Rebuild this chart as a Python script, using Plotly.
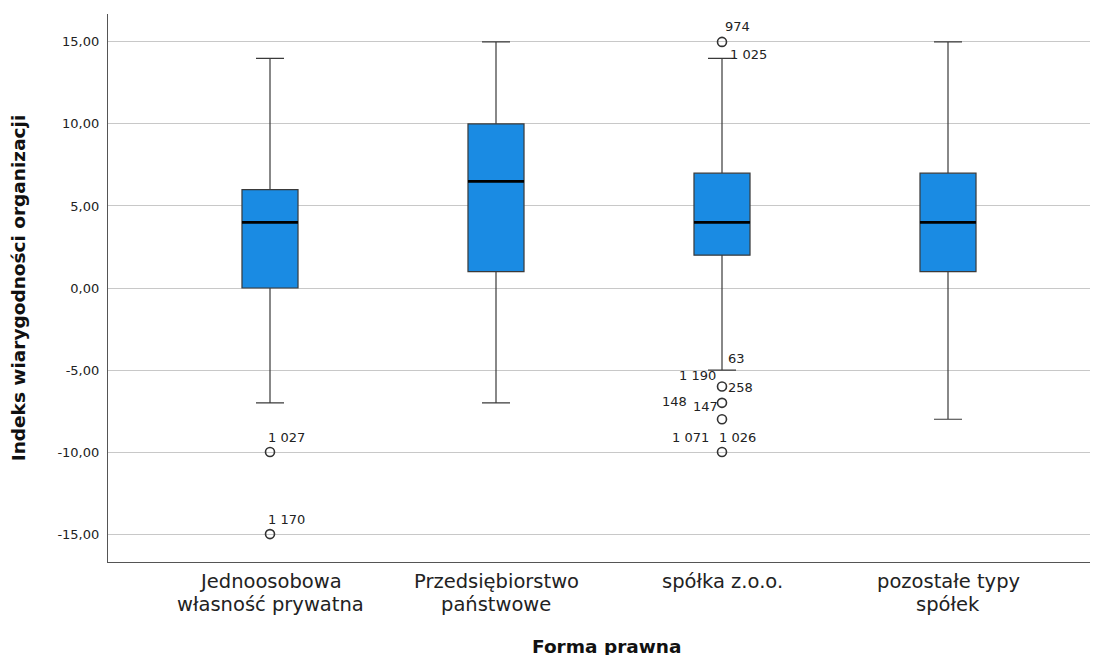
import plotly.graph_objects as go

categories = ["Jednoosobowa<br>własność prywatna", "Przedsiębiorstwo<br>państwowe",
              "spółka z.o.o.", "pozostałe typy<br>spółek"]
lower_whisker = [-7, -7, -5, -8]
q1 = [0, 1, 2, 1]
median = [4, 6.5, 4, 4]
q3 = [6, 10, 7, 7]
upper_whisker = [14, 15, 14, 15]

# outliers: (category index, value)
outlier_cat = [0, 0, 2, 2, 2, 2, 2]
outlier_val = [-10, -15, 15, -6, -7, -8, -10]

# outlier labels: (category index, value, label, x shift px, y shift px)
label_cat = [0, 0, 2, 2, 2, 2, 2, 2, 2, 2, 2]
label_val = [-10, -15, 15, 15, -6, -6, -6, -7, -7, -10, -10]
label_txt = ["1 027", "1 170", "974", "1 025", "63", "1 190", "258", "148", "147", "1 071", "1 026"]
label_dx = [16, 16, 15, 26, 14, -25, 18, -48, -17, -32, 15]
label_dy = [15, 15, 15, -13, 28, 11, -1, 1, -4, 15, 15]

y_ticks = [-15, -10, -5, 0, 5, 10, 15]
y_ticktext = ["-15,00", "-10,00", "-5,00", "0,00", "5,00", "10,00", "15,00"]

x_title = "Forma prawna"
y_title = "Indeks wiarygodności organizacji"

FONT = "DejaVu Sans"
BOX_W = 0.248

fig = go.Figure()
xs = list(range(len(categories)))
fig.add_trace(go.Box(
    x=xs, q1=q1, median=median, q3=q3,
    lowerfence=lower_whisker, upperfence=upper_whisker,
    width=BOX_W, whiskerwidth=0.5,
    fillcolor="#1a8be3", line=dict(color="#3a3a3a", width=1.2),
    boxpoints=False, showlegend=False, hoverinfo="skip",
))

# thick median lines
mx, my = [], []
for i, m in enumerate(median):
    mx += [i - BOX_W / 2, i + BOX_W / 2, None]
    my += [m, m, None]
fig.add_trace(go.Scatter(x=mx, y=my, mode="lines",
                         line=dict(color="black", width=2.6),
                         showlegend=False, hoverinfo="skip"))

fig.add_trace(go.Scatter(
    x=outlier_cat, y=outlier_val, mode="markers",
    marker=dict(symbol="circle-open", size=9, color="#333333", line=dict(width=1.6)),
    showlegend=False, hoverinfo="skip"))

for c, v, t, dx, dy in zip(label_cat, label_val, label_txt, label_dx, label_dy):
    fig.add_annotation(x=c, y=v, text=t, showarrow=False, xshift=dx, yshift=dy,
                       font=dict(family=FONT, size=13, color="#222222"))

# category labels (two tightly spaced lines)
for i, cat in enumerate(categories):
    for j, line in enumerate(cat.split("<br>")):
        fig.add_annotation(x=i, y=0, xref="x", yref="paper", yanchor="middle",
                           text=line, showarrow=False, yshift=-19 - 23 * j,
                           font=dict(family=FONT, size=19.5, color="#222222"))

fig.add_annotation(x=0.5, y=0, xref="paper", yref="paper", yanchor="middle",
                   text="<b>" + x_title + "</b>", showarrow=False, yshift=-84,
                   font=dict(family=FONT, size=18.5, color="#111111"))

fig.update_layout(
    width=1098, height=655,
    margin=dict(l=100, r=0, t=6, b=101),
    plot_bgcolor="white", paper_bgcolor="white",
    font=dict(family=FONT, color="#222222"),
)
fig.update_xaxes(
    range=[-162 / 226, 836 / 226],
    tickvals=xs, showticklabels=False,
    showgrid=False, zeroline=False,
    showline=True, linecolor="#555555", linewidth=1.2,
    ticks="",
)
fig.update_yaxes(
    range=[-16.7, 16.7],
    tickvals=y_ticks, ticktext=y_ticktext,
    tickfont=dict(size=13, family=FONT, color="#222222"),
    showgrid=True, gridcolor="#c8c8c8", gridwidth=1.2,
    zeroline=False,
    showline=True, linecolor="#555555", linewidth=1.2,
    ticks="outside", ticklen=5, tickcolor="rgba(0,0,0,0)",
    title=dict(text="<b>" + y_title + "</b>", font=dict(size=18.5, family=FONT, color="#111111"), standoff=26),
)

fig.write_html("out.html")
